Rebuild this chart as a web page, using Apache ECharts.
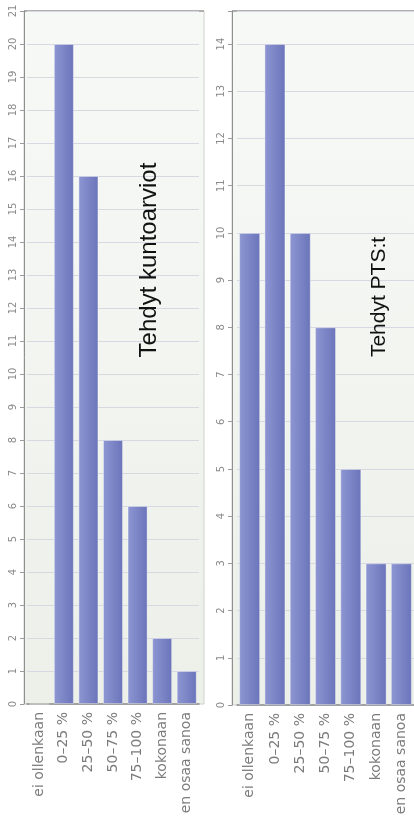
<!DOCTYPE html>
<html>
<head>
<meta charset="utf-8">
<script src="https://cdn.jsdelivr.net/npm/echarts@6/dist/echarts.min.js"></script>
<style>
  html, body { margin: 0; padding: 0; background: #ffffff; }
  #chart { width: 414px; height: 832px; }
</style>
</head>
<body>
<div id="chart"></div>
<script>
// Answer categories shared by both panels
const categories = ['ei ollenkaan', '0–25 %', '25–50 %', '50–75 %', '75–100 %', 'kokonaan', 'en osaa sanoa'];
// Counts per category
const kuntoarviot = [0, 20, 16, 8, 6, 2, 1];
const ptsCounts = [10, 14, 10, 8, 5, 3, 3];
// Value axis ranges
const leftMax = 21;
const rightMax = 14.7;
// Panel titles
const leftTitle = 'Tehdyt kuntoarviot';
const rightTitle = 'Tehdyt PTS:t';

const chart = echarts.init(document.getElementById('chart'), null, { renderer: 'canvas' });

const barFill = new echarts.graphic.LinearGradient(0, 0, 1, 0, [
  { offset: 0, color: '#8e97d3' },
  { offset: 1, color: '#6a74b9' }
]);
const plotFill = new echarts.graphic.LinearGradient(0, 0, 0, 1, [
  { offset: 0, color: '#f7f9f6' },
  { offset: 1, color: '#ecf0e9' }
]);

const labelColor = '#8a8a8a';

function valueAxis(gridIndex, max, offset) {
  return {
    type: 'value', gridIndex: gridIndex, min: 0, max: max, interval: 1,
    offset: offset,
    axisLine: { show: true, lineStyle: { color: '#8f8f8f', width: 1 } },
    axisTick: { show: true, length: 4, lineStyle: { color: '#9a9a9a' } },
    splitLine: { show: true, lineStyle: { color: '#d7d8e2', width: 1 } },
    axisLabel: {
      rotate: 90, fontSize: 10, color: labelColor, margin: 6,
      fontFamily: 'DejaVu Sans',
      formatter: v => (Number.isInteger(v) ? String(v) : '')
    }
  };
}

function catAxis(gridIndex) {
  return {
    type: 'category', gridIndex: gridIndex, data: categories,
    axisLine: { show: true, lineStyle: { color: '#8f8f8f', width: 1.5 } },
    axisTick: { show: false },
    axisLabel: {
      rotate: 90, fontSize: 14, color: '#7c7c7c', margin: 8,
      fontFamily: 'DejaVu Sans', interval: 0
    }
  };
}

chart.setOption({
  animation: false,
  backgroundColor: '#ffffff',
  graphic: [
    { type: 'rect', z: -10, shape: { x: 24, y: 11, width: 180, height: 693 },
      style: { fill: plotFill, stroke: '#cfd2cc', lineWidth: 1 } },
    { type: 'line', z: -9, shape: { x1: 24, y1: 11, x2: 204, y2: 11 },
      style: { stroke: '#9c9c9c', lineWidth: 1.5 } },
    { type: 'rect', z: -10, shape: { x: 232, y: 11, width: 184, height: 694 },
      style: { fill: plotFill, stroke: '#cfd2cc', lineWidth: 1 } },
    { type: 'line', z: -9, shape: { x1: 232, y1: 11, x2: 414, y2: 11 },
      style: { stroke: '#9c9c9c', lineWidth: 1.5 } },
    { type: 'text', z: 10, x: 149, y: 260, rotation: Math.PI / 2,
      style: { text: leftTitle, fill: '#111111', fontSize: 24,
        fontFamily: 'Liberation Sans', textAlign: 'center', textVerticalAlign: 'middle' } },
    { type: 'text', z: 10, x: 379, y: 297, rotation: Math.PI / 2,
      style: { text: rightTitle, fill: '#111111', fontSize: 21,
        fontFamily: 'Liberation Sans', textAlign: 'center', textVerticalAlign: 'middle' } }
  ],
  grid: [
    { left: 27, top: 11, width: 172, height: 693 },
    { left: 237, top: 11, width: 177, height: 694 }
  ],
  xAxis: [catAxis(0), catAxis(1)],
  yAxis: [valueAxis(0, leftMax, 3), valueAxis(1, rightMax, 5)],
  series: [
    {
      type: 'bar', xAxisIndex: 0, yAxisIndex: 0, data: kuntoarviot, barWidth: 20,
      itemStyle: { color: barFill, borderColor: 'rgba(255,255,255,0.35)', borderWidth: 1 }
    },
    {
      type: 'bar', xAxisIndex: 1, yAxisIndex: 1, data: ptsCounts, barWidth: 21,
      itemStyle: { color: barFill, borderColor: 'rgba(255,255,255,0.35)', borderWidth: 1 }
    }
  ]
});
</script>
</body>
</html>
